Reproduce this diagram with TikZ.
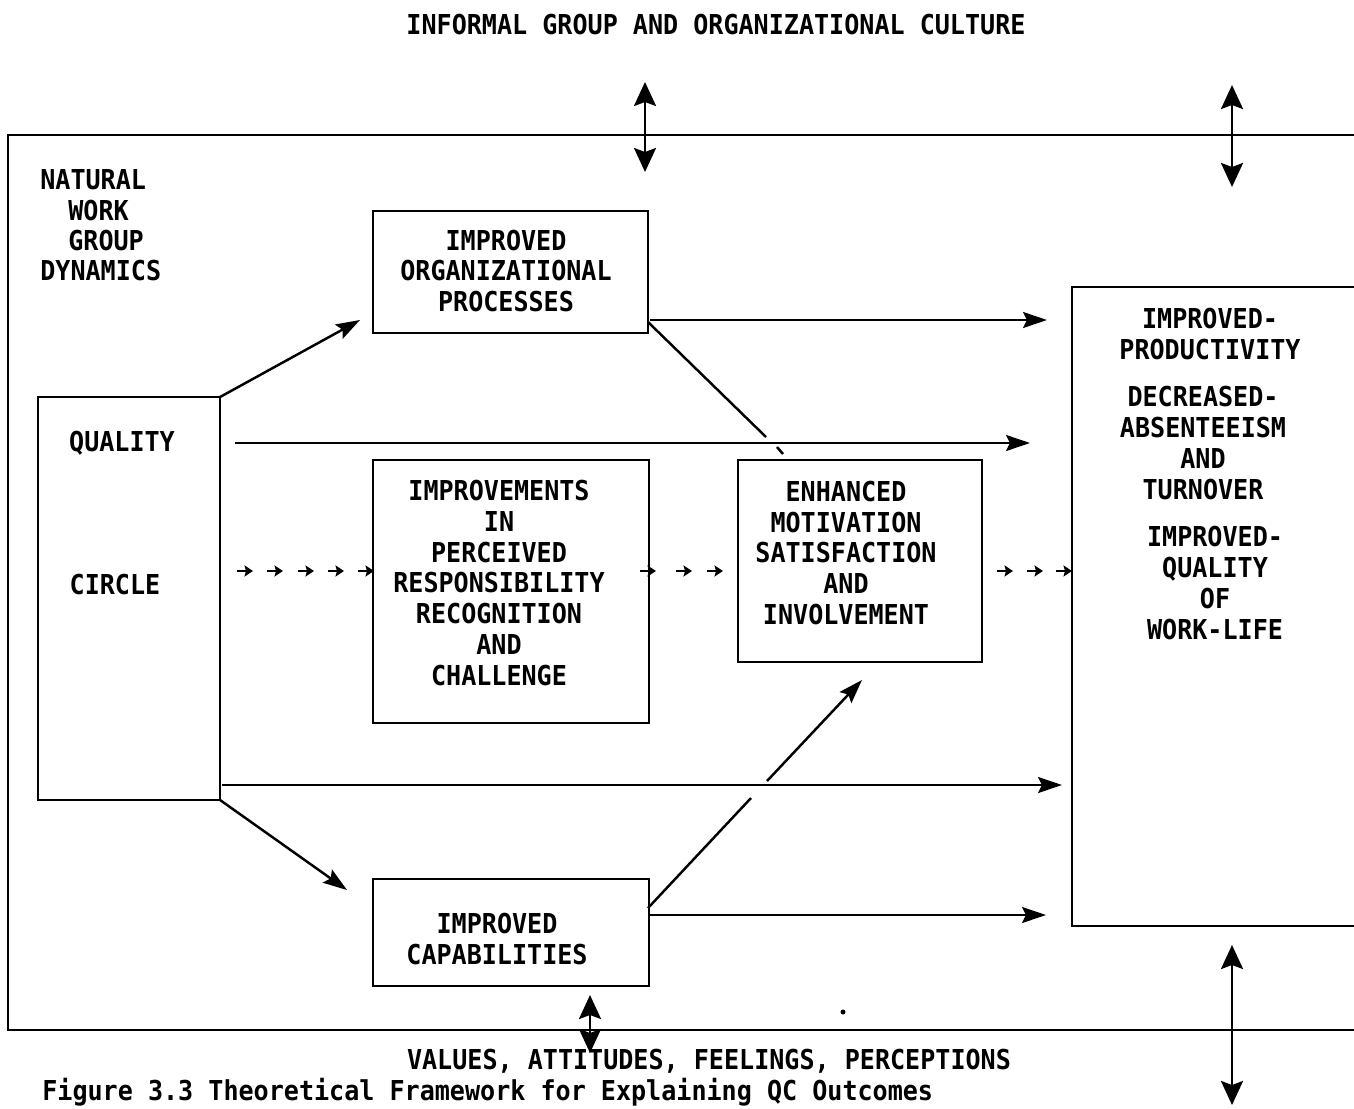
\documentclass[tikz,border=0pt]{standalone}
\usepackage{fontspec}
\newfontfamily\tw[FakeStretch=0.915]{DejaVu Sans Mono Bold}
\usetikzlibrary{arrows.meta}
\begin{document}
\begin{tikzpicture}[x=0.02cm,y=-0.02cm,
  txt/.style={font=\tw\fontsize{15.6}{17.6}\selectfont, align=center, inner sep=0pt},
  box/.style={draw, line width=1.2pt, inner sep=0pt, outer sep=0pt},
  frame/.style={line width=1.2pt},
  bigarrow/.style={line width=1.4pt, -{Stealth[length=0.48cm,width=0.32cm,inset=0.08cm]}},
  dblarrow/.style={line width=1.5pt, {Stealth[length=0.48cm,width=0.44cm,inset=0.08cm]}-{Stealth[length=0.48cm,width=0.44cm,inset=0.08cm]}},
  smallarrow/.style={line width=1.1pt, -{Stealth[length=0.17cm,width=0.22cm,inset=0.03cm]}},
  plain/.style={line width=1.4pt}]
\useasboundingbox (0,0) rectangle (1354,1108);

% frame
\coordinate (ftl) at (8,135);
\coordinate (fbl) at (8,1030);
\coordinate (ftr) at (1360,135);
\coordinate (fbr) at (1360,1030);
\draw[frame] (ftr) -- (ftl) -- (fbl) -- (fbr);

% titles
\node[txt] (top) at (716,25) {INFORMAL GROUP AND ORGANIZATIONAL CULTURE};
\node[txt] (bottom) at (709,1061) {VALUES, ATTITUDES, FEELINGS, PERCEPTIONS};
\node[txt, anchor=base west] (caption) at (42,1100) {Figure 3.3 Theoretical Framework for Explaining QC Outcomes};

% natural work group dynamics
\node[txt, anchor=west] (nat1) at (40,180) {NATURAL};
\node[txt, anchor=west] (nat2) at (68,211) {WORK};
\node[txt, anchor=west] (nat3) at (68,241) {GROUP};
\node[txt, anchor=west] (nat4) at (40,271) {DYNAMICS};

% boxes
\node[box, minimum width=3.64cm, minimum height=8.06cm] (qc) at (129,598.5) {};
\node[txt] (qct1) at (122,443) {QUALITY};
\node[txt] (qct2) at (115,585) {CIRCLE};

\node[box, minimum width=5.5cm, minimum height=2.44cm] (iop) at (510.5,272) {};
\node[txt] (iopt) at (506,271) {IMPROVED\\ORGANIZATIONAL\\PROCESSES};

\node[box, minimum width=5.52cm, minimum height=5.26cm] (imp) at (511,591.5) {};
\node[txt] (impt) at (499,583) {IMPROVEMENTS\\IN\\PERCEIVED\\RESPONSIBILITY\\RECOGNITION\\AND\\CHALLENGE};

\node[box, minimum width=4.88cm, minimum height=4.04cm] (enh) at (860,561) {};
\node[txt] (enht) at (846,553) {ENHANCED\\MOTIVATION\\SATISFACTION\\AND\\INVOLVEMENT};

\node[box, minimum width=5.52cm, minimum height=2.14cm] (ic) at (511,932.5) {};
\node[txt] (ict) at (497,939) {IMPROVED\\CAPABILITIES};

\node[box, minimum width=5.76cm, minimum height=12.78cm] (out) at (1216,606.5) {};
\node[txt] (out1) at (1210,334) {IMPROVED-\\PRODUCTIVITY};
\node[txt] (out2) at (1203,443) {DECREASED-\\ABSENTEEISM\\AND\\TURNOVER};
\node[txt] (out3) at (1215,583) {IMPROVED-\\QUALITY\\OF\\WORK-LIFE};

% endpoints
\coordinate (a1) at (360,320);
\coordinate (a2) at (347,890);
\coordinate (s3) at (650,320);
\coordinate (a3) at (1047,320);
\coordinate (s4) at (235,443);
\coordinate (a4) at (1030,443);
\coordinate (s5) at (222,785);
\coordinate (a5) at (1062,785);
\coordinate (s6) at (650,915);
\coordinate (a6) at (1046,915);
\coordinate (d0) at (648,322);
\coordinate (d1) at (766,437);
\coordinate (t0) at (777,447);
\coordinate (t1) at (783,454);
\coordinate (g0) at (648,908);
\coordinate (g1) at (751,798);
\coordinate (g2) at (767,781);
\coordinate (g3) at (862,680);

% connectors
\draw[bigarrow] (qc.north east) -- (a1);
\draw[bigarrow] (qc.south east) -- (a2);
\draw[bigarrow] (s3) -- (a3);
\draw[bigarrow] (s4) -- (a4);
\draw[bigarrow] (s5) -- (a5);
\draw[bigarrow] (s6) -- (a6);
\draw[plain] (d0) -- (d1);
\draw[plain] (t0) -- (t1);
\draw[plain] (g0) -- (g1);
\draw[bigarrow] (g2) -- (g3);

% dotted small arrows
\foreach \x in {237,267,298,328,358,640,676,707,997,1027,1056}
  \draw[smallarrow] (\x,571) -- ++(16,0);

% double arrows
\coordinate (u1a) at (645,82);
\coordinate (u1b) at (645,172);
\coordinate (u2a) at (1232,85);
\coordinate (u2b) at (1232,187);
\coordinate (b1a) at (590,995);
\coordinate (b1b) at (590,1053);
\coordinate (b2a) at (1232,945);
\coordinate (b2b) at (1232,1105);
\draw[dblarrow] (u1a) -- (u1b);
\draw[dblarrow] (u2a) -- (u2b);
\draw[dblarrow] (b1a) -- (b1b);
\draw[dblarrow] (b2a) -- (b2b);

% stray dot
\fill (843,1012) circle (2.5);
\end{tikzpicture}
\end{document}
